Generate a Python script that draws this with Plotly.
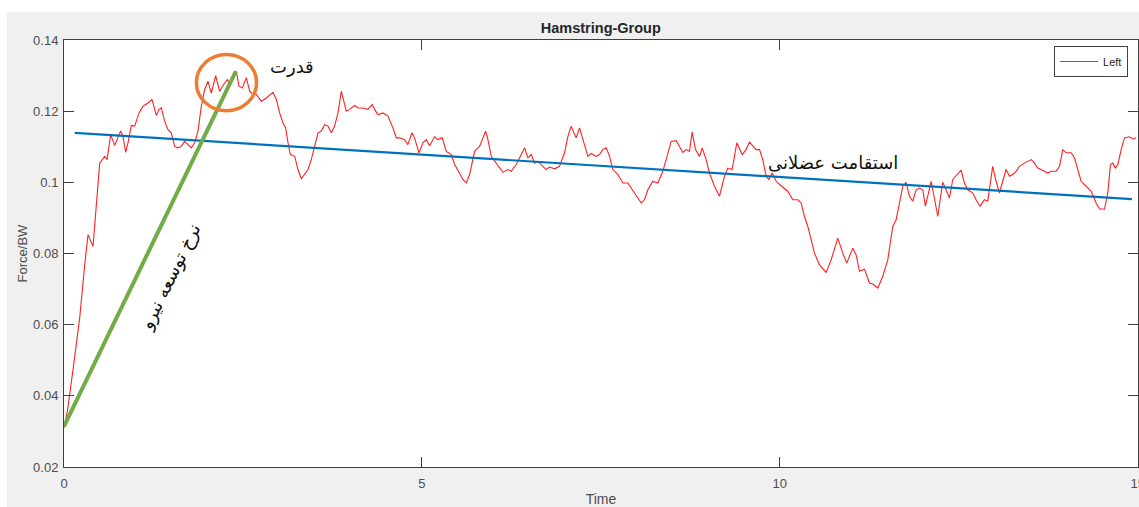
import plotly.graph_objects as go

# ---- data ----
time_left = [0.0, 0.05, 0.13, 0.22, 0.29, 0.336, 0.405, 0.499, 0.568, 0.601, 0.652, 0.708, 0.741, 0.792, 0.824,
             0.862, 0.894, 0.941, 0.987, 1.048, 1.104, 1.173, 1.229, 1.267, 1.290, 1.327, 1.360, 1.406, 1.453,
             1.499, 1.546, 1.593, 1.639, 1.686, 1.732, 1.779, 1.826, 1.872, 1.919, 1.965, 2.012, 2.058, 2.119,
             2.175, 2.231, 2.282, 2.315, 2.352, 2.408, 2.445, 2.492, 2.547, 2.594, 2.641, 2.687, 2.757, 2.827,
             2.883, 2.920, 2.967, 3.013, 3.060, 3.097, 3.130, 3.162, 3.223, 3.269, 3.316, 3.362, 3.409, 3.455,
             3.502, 3.549, 3.595, 3.642, 3.688, 3.735, 3.781, 3.828, 3.874, 3.907, 3.944, 3.990, 4.060, 4.107,
             4.177, 4.247, 4.307, 4.340, 4.386, 4.456, 4.526, 4.596, 4.643, 4.689, 4.758, 4.805, 4.861, 4.898,
             4.959, 5.015, 5.061, 5.108, 5.178, 5.224, 5.285, 5.341, 5.411, 5.458, 5.527, 5.574, 5.620, 5.667,
             5.736, 5.806, 5.890, 5.923, 5.969, 6.039, 6.132, 6.202, 6.248, 6.318, 6.388, 6.435, 6.481, 6.528,
             6.574, 6.621, 6.691, 6.737, 6.784, 6.854, 6.923, 6.993, 7.040, 7.086, 7.124, 7.156, 7.203, 7.249,
             7.319, 7.366, 7.435, 7.482, 7.528, 7.575, 7.622, 7.668, 7.738, 7.808, 7.878, 7.924, 7.994, 8.064,
             8.110, 8.157, 8.227, 8.297, 8.366, 8.436, 8.483, 8.553, 8.599, 8.646, 8.693, 8.739, 8.776, 8.823,
             8.879, 8.916, 8.972, 9.018, 9.088, 9.158, 9.228, 9.274, 9.335, 9.400, 9.475, 9.530, 9.577, 9.624,
             9.670, 9.717, 9.763, 9.810, 9.847, 9.894, 9.950, 9.996, 10.066, 10.112, 10.182, 10.252, 10.299,
             10.345, 10.392, 10.438, 10.485, 10.555, 10.648, 10.718, 10.811, 10.881, 10.936, 11.020, 11.067,
             11.114, 11.183, 11.253, 11.300, 11.370, 11.440, 11.509, 11.556, 11.579, 11.626, 11.672, 11.719,
             11.765, 11.812, 11.858, 11.905, 11.952, 11.998, 12.035, 12.068, 12.115, 12.147, 12.208, 12.241,
             12.277, 12.324, 12.371, 12.417, 12.487, 12.534, 12.580, 12.627, 12.697, 12.743, 12.799, 12.859,
             12.906, 12.929, 12.975, 13.022, 13.069, 13.115, 13.162, 13.209, 13.255, 13.302, 13.348, 13.418,
             13.465, 13.512, 13.558, 13.605, 13.651, 13.698, 13.744, 13.791, 13.861, 13.908, 13.954, 14.001,
             14.071, 14.117, 14.164, 14.210, 14.280, 14.350, 14.420, 14.467, 14.537, 14.583, 14.620, 14.653,
             14.690, 14.723, 14.770, 14.816, 14.886, 14.933, 14.979]
force_left = [0.031, 0.036, 0.048, 0.062, 0.077, 0.0853, 0.0820, 0.1054, 0.1073, 0.1064, 0.1134, 0.1104, 0.1120,
              0.1144, 0.1129, 0.1084, 0.1111, 0.1160, 0.1158, 0.1195, 0.1214, 0.1223, 0.1233, 0.1205, 0.1188,
              0.1205, 0.1209, 0.1172, 0.1148, 0.1139, 0.1101, 0.1097, 0.1101, 0.1115, 0.1106, 0.1097, 0.1111,
              0.1144, 0.1214, 0.1261, 0.1284, 0.1251, 0.1300, 0.1256, 0.1275, 0.1289, 0.1275, 0.1289, 0.1312,
              0.1270, 0.1265, 0.1294, 0.1256, 0.1247, 0.1247, 0.1228, 0.1237, 0.1247, 0.1253, 0.1233, 0.1195,
              0.1167, 0.1153, 0.1111, 0.1078, 0.1073, 0.1036, 0.1010, 0.1022, 0.1036, 0.1064, 0.1101, 0.1139,
              0.1144, 0.1162, 0.1158, 0.1139, 0.1158, 0.1195, 0.1256, 0.1233, 0.1200, 0.1205, 0.1216, 0.1209,
              0.1209, 0.1205, 0.1219, 0.1205, 0.1190, 0.1195, 0.1186, 0.1153, 0.1125, 0.1125, 0.1120, 0.1106,
              0.1139, 0.1125, 0.1083, 0.1111, 0.1120, 0.1103, 0.1128, 0.1120, 0.1125, 0.1087, 0.1078, 0.1050,
              0.1026, 0.1008, 0.0998, 0.1022, 0.1087, 0.1101, 0.1144, 0.1120, 0.1073, 0.1054, 0.1028, 0.1036,
              0.1031, 0.1050, 0.1078, 0.1097, 0.1069, 0.1078, 0.1054, 0.1059, 0.1045, 0.1036, 0.1043, 0.1038,
              0.1045, 0.1083, 0.1129, 0.1158, 0.1139, 0.1125, 0.1153, 0.1120, 0.1073, 0.1081, 0.1073, 0.1078,
              0.1092, 0.1097, 0.1073, 0.1036, 0.1022, 0.0998, 0.0998, 0.0984, 0.0961, 0.0942, 0.0951, 0.0979,
              0.1003, 0.0998, 0.1031, 0.1083, 0.1115, 0.1117, 0.1101, 0.1084, 0.1092, 0.1087, 0.1141, 0.1092,
              0.1073, 0.1097, 0.1064, 0.1026, 0.0989, 0.0961, 0.1017, 0.1040, 0.1036, 0.1111, 0.1078, 0.1092,
              0.1113, 0.1101, 0.1092, 0.1092, 0.1064, 0.1017, 0.1008, 0.1026, 0.1003, 0.0994, 0.0984, 0.0975,
              0.0951, 0.0951, 0.0942, 0.0904, 0.0876, 0.0839, 0.0801, 0.0768, 0.0747, 0.0782, 0.0843, 0.0801,
              0.0773, 0.0815, 0.0796, 0.0750, 0.0756, 0.0717, 0.0714, 0.0703, 0.0736, 0.0782, 0.0839, 0.0876,
              0.0895, 0.0942, 0.0989, 0.1000, 0.0961, 0.0947, 0.0979, 0.0984, 0.0979, 0.0933, 0.0965, 0.1003,
              0.0970, 0.0904, 0.0951, 0.1000, 0.0979, 0.0956, 0.1008, 0.1022, 0.1034, 0.0998, 0.0979, 0.0970,
              0.0951, 0.0933, 0.0951, 0.0947, 0.0984, 0.1045, 0.1003, 0.0970, 0.1003, 0.1036, 0.1017, 0.1022,
              0.1031, 0.1045, 0.1054, 0.1059, 0.1064, 0.1054, 0.1040, 0.1036, 0.1031, 0.1026, 0.1031, 0.1031,
              0.1045, 0.1092, 0.1083, 0.1083, 0.1069, 0.1036, 0.1003, 0.0989, 0.0975, 0.0942, 0.0925, 0.0925,
              0.0970, 0.1050, 0.1054, 0.1040, 0.1050, 0.1092, 0.1125, 0.1128, 0.1122, 0.1125]

endurance_x = [0.15, 14.92]          # blue trend line
endurance_y = [0.1139, 0.0953]
rfd_x = [0.0, 2.40]                  # green rate-of-force-development line
rfd_y = [0.0314, 0.1312]
peak_box_x = [1.85, 2.69]            # orange circle around peak
peak_box_y = [0.1201, 0.1359]

x_ticks = [0, 5, 10, 15]
y_ticks = [0.02, 0.04, 0.06, 0.08, 0.10, 0.12, 0.14]
y_tick_text = ["0.02", "0.04", "0.06", "0.08", "0.1", "0.12", "0.14"]

label_power = "قدرت"
label_endurance = "استقامت عضلانی"
label_rfd = "نرخ توسعه نیرو"

# ---- figure ----
fig = go.Figure()
fig.add_trace(go.Scatter(x=time_left, y=force_left, mode="lines", name="Left",
                         line=dict(color="#ff2020", width=1.1)))
fig.add_trace(go.Scatter(x=endurance_x, y=endurance_y, mode="lines", showlegend=False,
                         line=dict(color="#0072BD", width=2.2)))
fig.add_trace(go.Scatter(x=rfd_x, y=rfd_y, mode="lines", showlegend=False,
                         line=dict(color="#70AD47", width=4)))

fig.add_shape(type="circle", xref="x", yref="y", x0=peak_box_x[0], x1=peak_box_x[1],
              y0=peak_box_y[0], y1=peak_box_y[1], line=dict(color="#ED7D31", width=3.5))

# white page strips outside the grey MATLAB figure area
fig.add_shape(type="rect", xref="paper", yref="paper", x0=-0.2, x1=1.2, y0=1.0656, y1=1.3,
              fillcolor="white", line_width=0, layer="below")
fig.add_shape(type="rect", xref="paper", yref="paper", x0=-0.2, x1=-0.0531, y0=-0.3, y1=1.3,
              fillcolor="white", line_width=0, layer="below")

arfont = dict(family="DejaVu Sans", size=18, color="#111111")
fig.add_annotation(x=3.18, y=0.1325, text=label_power, showarrow=False, font=arfont)
fig.add_annotation(x=10.75, y=0.1055, text=label_endurance, showarrow=False, font=arfont)
fig.add_annotation(x=1.48, y=0.0735, text=label_rfd, showarrow=False, textangle=-64,
                   font=dict(family="DejaVu Sans", size=18, color="#111111"))

axis_common = dict(showline=True, linecolor="#404040", linewidth=1, mirror="ticks",
                   ticks="inside", ticklen=10, tickcolor="#404040", showgrid=False, zeroline=False,
                   ticklabeloverflow="allow", automargin=False,
                   tickfont=dict(family="Liberation Sans", size=13, color="#4d4d4d"))

fig.update_layout(
    width=1139, height=507,
    margin=dict(l=64, r=1, t=40, b=40),
    paper_bgcolor="#f0f0f0", plot_bgcolor="white",
    title=dict(text="<b>Hamstring-Group</b>", x=0.5275, xanchor="center", y=0.945, yanchor="middle",
               yref="container", font=dict(family="Liberation Sans", size=14.5, color="#262626")),
    xaxis=dict(range=[0, 15.005], tickvals=x_ticks, ticktext=[str(v) for v in x_ticks],
               ticklabelstandoff=4,
               title=dict(text="Time", standoff=6, font=dict(family="Liberation Sans", size=14, color="#4d4d4d")),
               **axis_common),
    yaxis=dict(range=[0.02, 0.14], tickvals=y_ticks, ticktext=y_tick_text,
               ticklabelstandoff=2,
               title=dict(text="Force/BW", standoff=2, font=dict(family="Liberation Sans", size=13, color="#4d4d4d")),
               **axis_common),
    legend=dict(x=0.9907, y=0.986, xanchor="right", yanchor="top", bgcolor="white",
                bordercolor="#404040", borderwidth=1, itemwidth=38,
                font=dict(family="Liberation Sans", size=11, color="#262626")),
    showlegend=True,
)

fig.write_html("out.html", config={"displayModeBar": False},
               post_script="document.body.style.margin='0';document.body.style.overflow='hidden';")
